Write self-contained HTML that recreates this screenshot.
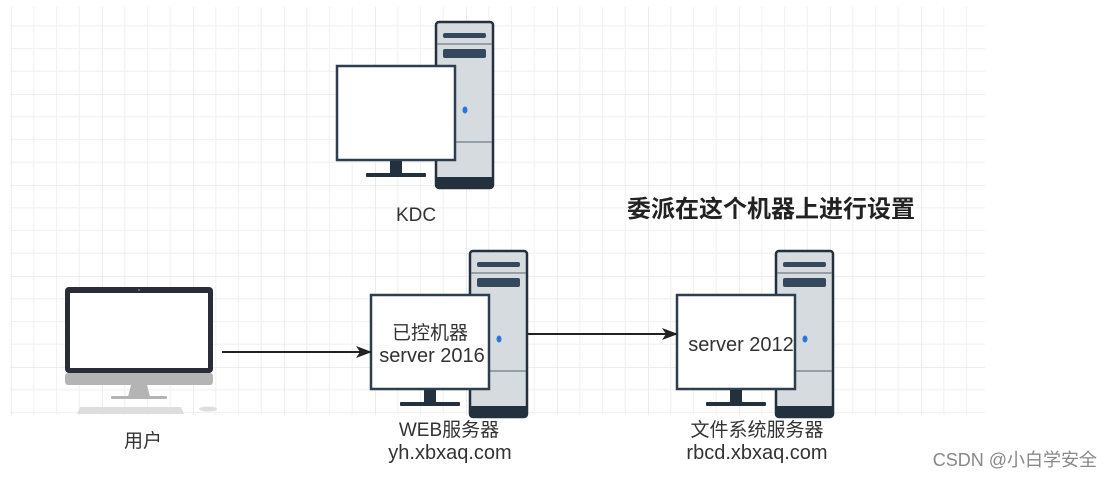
<!DOCTYPE html>
<html><head><meta charset="utf-8"><style>
html,body{margin:0;padding:0;background:#fff;width:1113px;height:477px;overflow:hidden}
svg{display:block}
text{font-family:"Liberation Sans","Noto Sans CJK SC",sans-serif}
</style></head><body>
<svg width="1113" height="477" viewBox="0 0 1113 477">
<defs>
<pattern id="g" x="11" y="3" width="91" height="91" patternUnits="userSpaceOnUse">
<path d="M0 0V91M22.75 0V91M45.5 0V91M68.25 0V91M0 0H91M0 22.75H91M0 45.5H91M0 68.25H91" stroke="#f2f2f2" stroke-width="1.2" fill="none"/>
<path d="M0 0V91M0 0H91" stroke="#e8e8e8" stroke-width="1.6" fill="none"/>
</pattern>
<g id="srv">
<rect x="0" y="0" width="57" height="166" rx="3" fill="#d6dbe0" stroke="#23303e" stroke-width="2.5"/>
<rect x="0" y="155" width="57" height="11" rx="2" fill="#23303e"/>
<rect x="7" y="11" width="43" height="5" rx="2" fill="#34495e"/>
<line x1="1" y1="22" x2="56" y2="22" stroke="#6f7b87" stroke-width="1.2"/>
<rect x="7" y="27" width="43" height="9" rx="2" fill="#34495e"/>
<ellipse cx="29" cy="88" rx="2.5" ry="3.5" fill="#2a75e0"/>
<line x1="1" y1="120" x2="56" y2="120" stroke="#6f7b87" stroke-width="1.2"/>
<rect x="-99" y="44" width="118" height="94" fill="#fff" stroke="#2c3e50" stroke-width="2.5"/>
<rect x="-46" y="139" width="12" height="13" fill="#23303e"/>
<rect x="-70" y="151" width="60" height="4" rx="1" fill="#23303e"/>
</g>
<marker id="ar" markerWidth="16" markerHeight="12" refX="15" refY="6" orient="auto" markerUnits="userSpaceOnUse">
<path d="M0 0L16 6L0 12L4 6Z" fill="#222"/>
</marker>
</defs>
<rect x="10" y="7" width="975" height="408" fill="url(#g)"/>
<use href="#srv" x="436" y="22"/>
<use href="#srv" x="470" y="251"/>
<use href="#srv" x="776" y="251"/>
<rect x="65" y="287" width="148" height="86" rx="4" fill="#2b2d36"/>
<rect x="70" y="293" width="138" height="75" fill="#fff"/>
<circle cx="139" cy="290" r="1" fill="#777"/>
<rect x="65" y="373" width="148" height="12" rx="3" fill="#b4b4b4"/>
<path d="M131 385h16l3 12h-22z" fill="#b4b4b4"/>
<rect x="111" y="396" width="56" height="3" rx="1" fill="#b4b4b4"/>
<path d="M80 407h101l3 7H77z" fill="#ddd"/>
<ellipse cx="208" cy="409" rx="9" ry="2.5" fill="#ddd"/>
<line x1="222" y1="352" x2="371" y2="352" stroke="#222" stroke-width="2" marker-end="url(#ar)"/>
<line x1="528" y1="334" x2="677" y2="334" stroke="#222" stroke-width="2" marker-end="url(#ar)"/>
<text x="430" y="339" font-size="19" fill="#333" text-anchor="middle">已控机器</text>
<text x="432" y="362" font-size="20" fill="#333" text-anchor="middle">server 2016</text>
<text x="741" y="351" font-size="20" fill="#333" text-anchor="middle">server 2012</text>
<text x="416" y="221" font-size="19" fill="#333" text-anchor="middle">KDC</text>
<text x="771" y="217" font-size="24" font-weight="bold" fill="#222" text-anchor="middle">委派在这个机器上进行设置</text>
<text x="143" y="447" font-size="19" fill="#333" text-anchor="middle">用户</text>
<text x="449" y="436" font-size="19" fill="#333" text-anchor="middle">WEB服务器</text>
<text x="450" y="459" font-size="20" fill="#333" text-anchor="middle">yh.xbxaq.com</text>
<text x="757" y="436" font-size="19" fill="#333" text-anchor="middle">文件系统服务器</text>
<text x="757" y="459" font-size="20" fill="#333" text-anchor="middle">rbcd.xbxaq.com</text>
<text x="1097" y="466" font-size="18" fill="#888" text-anchor="end">CSDN @小白学安全</text>
</svg>
</body></html>
